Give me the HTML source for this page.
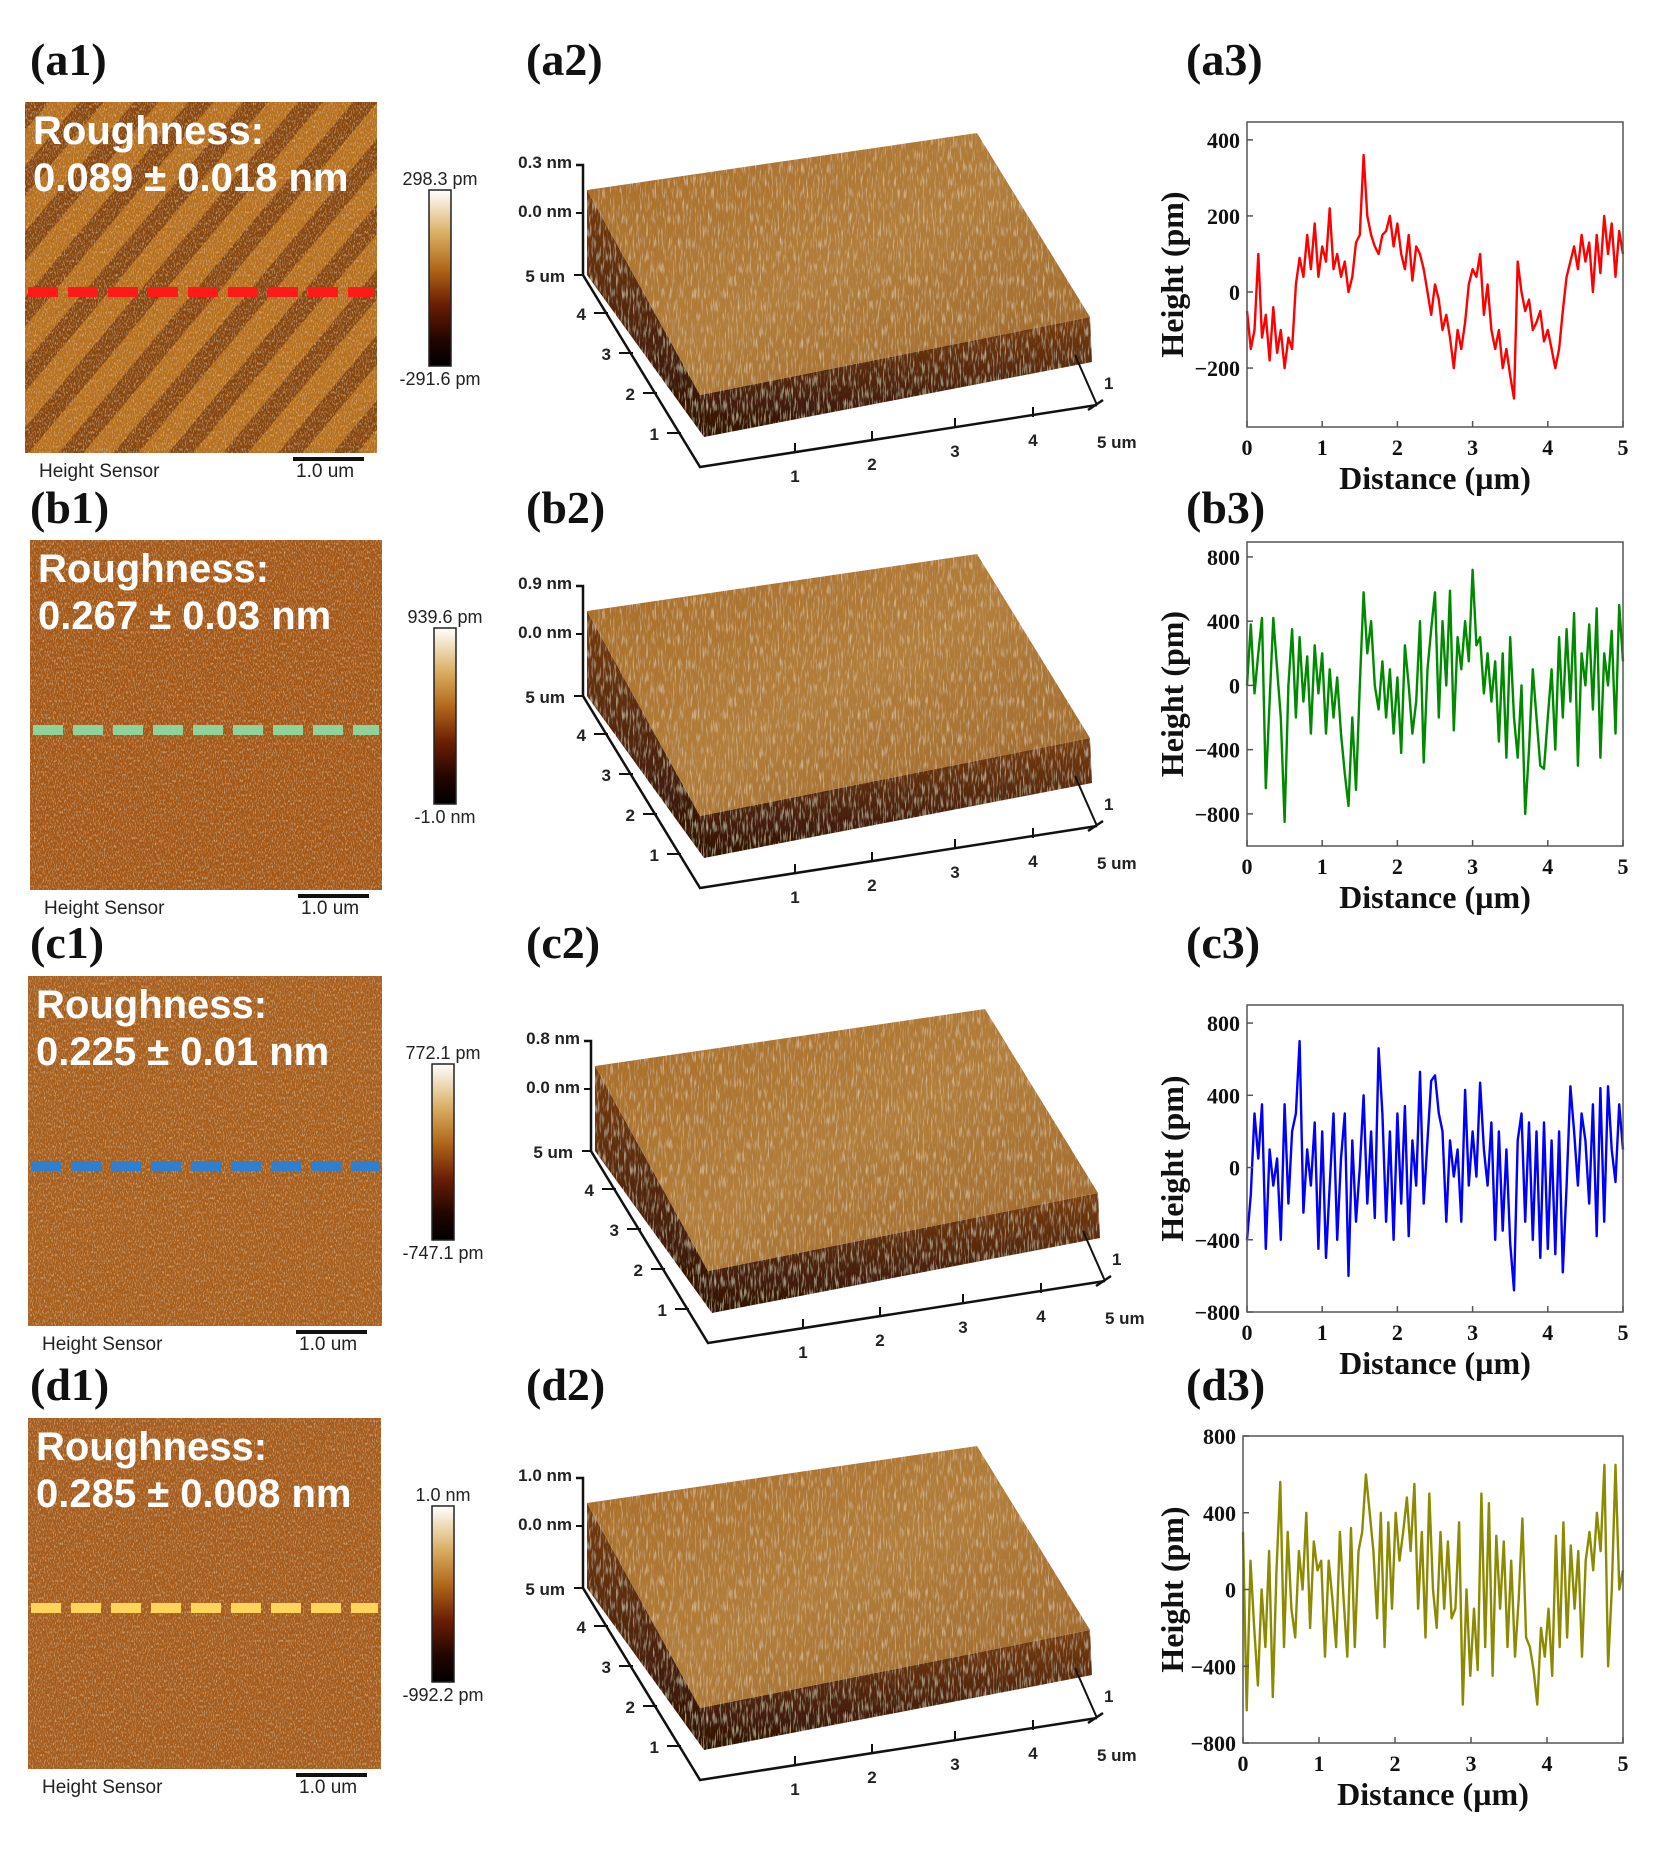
<!DOCTYPE html>
<html><head><meta charset="utf-8">
<style>
html,body{margin:0;padding:0;background:#fff;}
svg{display:block;}
.lbl{font-family:"Liberation Serif",serif;font-weight:bold;font-size:46px;fill:#111;}
.afm{font-family:"Liberation Sans",sans-serif;fill:#222;}
.tick{font-family:"Liberation Serif",serif;font-weight:bold;font-size:22px;fill:#111;}
.title{font-family:"Liberation Serif",serif;font-weight:bold;font-size:32px;fill:#111;}
</style></head>
<body>
<svg id="fig" width="1669" height="1855" viewBox="0 0 1669 1855" xmlns="http://www.w3.org/2000/svg">
<defs>
  <filter id="grain" x="0" y="0" width="100%" height="100%">
    <feTurbulence type="fractalNoise" baseFrequency="0.9 0.35" numOctaves="2" seed="3" result="n"/>
    <feColorMatrix in="n" type="matrix" values="0 0 0 0 0.95  0 0 0 0 0.75  0 0 0 0 0.4  0 0 0 1.4 -0.72" result="c"/>
    <feComposite in="c" in2="SourceGraphic" operator="atop"/>
  </filter>
  <filter id="spiky" x="0" y="0" width="100%" height="100%">
    <feTurbulence type="fractalNoise" baseFrequency="0.6 0.08" numOctaves="2" seed="7" result="n"/>
    <feColorMatrix in="n" type="matrix" values="0 0 0 0 0.9  0 0 0 0 0.75  0 0 0 0 0.5  0 0 0 1.5 -0.78" result="c"/>
    <feComposite in="c" in2="SourceGraphic" operator="atop"/>
  </filter>
  <pattern id="stripes" patternUnits="userSpaceOnUse" width="42" height="42" patternTransform="rotate(-50)">
    <rect width="42" height="42" fill="#b7701f"/>
    <rect width="42" height="19" fill="#8a4710"/>
  </pattern>
  <linearGradient id="cbar" x1="0" y1="0" x2="0" y2="1">
    <stop offset="0" stop-color="#ffffff"/>
    <stop offset="0.25" stop-color="#d9ad62"/>
    <stop offset="0.45" stop-color="#b0661a"/>
    <stop offset="0.65" stop-color="#6a1e04"/>
    <stop offset="0.85" stop-color="#220500"/>
    <stop offset="1" stop-color="#000000"/>
  </linearGradient>
  <linearGradient id="topface" x1="0" y1="0" x2="1" y2="1">
    <stop offset="0" stop-color="#a86c26"/>
    <stop offset="0.5" stop-color="#b27e3c"/>
    <stop offset="1" stop-color="#9c662a"/>
  </linearGradient>
  <linearGradient id="sideface" x1="0" y1="0" x2="0" y2="1">
    <stop offset="0" stop-color="#7a3e10"/>
    <stop offset="1" stop-color="#2e1004"/>
  </linearGradient>
</defs>
</svg>
<script>
// ---- line profile data (pm), sampled evenly over 0..5 µm ----
const a3Heights = [-50,-150,-100,100,-120,-60,-180,-40,-160,-100,-200,-120,-150,20,90,40,150,60,180,40,120,80,220,60,100,40,80,0,40,130,150,360,200,150,120,100,150,160,200,120,180,100,60,150,30,120,100,60,0,-60,20,-20,-100,-60,-120,-200,-100,-150,-80,20,60,40,100,-60,20,-100,-150,-100,-200,-150,-220,-280,80,0,-50,-20,-100,-80,-50,-130,-100,-150,-200,-150,-50,40,80,120,60,150,80,130,0,150,50,200,100,180,40,160,100];
const b3Heights = [0,380,-50,200,420,-640,-100,420,100,-200,-850,0,350,-200,300,-100,180,-300,250,-50,200,-300,100,-200,50,-300,-550,-750,-200,-650,0,580,200,400,0,-150,150,-200,100,-300,50,-420,250,0,-300,-100,400,-480,100,350,580,-200,400,0,590,-280,300,100,400,150,720,250,300,-50,200,-100,150,-350,200,-450,300,-200,-450,0,-800,-400,100,-200,-500,-520,-200,100,-400,300,-200,350,-100,450,-500,200,0,380,-150,480,-450,200,0,340,-300,500,150];
const c3Heights = [-400,-150,300,50,350,-450,100,-100,50,-400,350,-200,200,300,700,-250,100,-100,250,-450,200,-500,-100,300,-400,50,300,-600,150,-300,0,400,-200,200,-280,660,300,-300,200,-400,300,-200,340,-380,150,-100,530,-200,150,480,510,300,200,-300,150,-50,100,-300,430,-100,200,-50,470,100,-100,250,-400,200,-350,100,-420,-680,150,300,-300,250,-400,200,-500,250,-450,150,-480,200,-580,-100,450,200,-100,300,150,-200,350,-380,440,-300,450,100,-80,350,100];
const d3Heights = [300,-630,150,-200,-500,0,-300,200,-560,100,560,-300,300,-100,-250,200,0,400,-200,250,100,150,-350,150,-50,-300,300,-50,-350,320,-300,200,300,600,400,200,-150,400,-300,350,-100,400,150,300,480,200,550,-100,300,-250,500,0,-200,300,-100,250,-150,-100,350,-600,0,-450,-100,-420,500,-300,450,-450,280,-100,250,-300,150,-350,-50,370,-250,-300,-420,-600,-200,-350,-100,-450,280,-300,350,-250,230,-100,200,-350,150,300,100,400,200,650,-400,0,650,0,100];
const a3YTicks = [400,200,0,-200];
const b3YTicks = [800,400,0,-400,-800];
const c3YTicks = [800,400,0,-400,-800];
const d3YTicks = [800,400,0,-400,-800];
const xTicks = [0,1,2,3,4,5];
const xMax = 5;

const NS='http://www.w3.org/2000/svg';
const svg=document.getElementById('fig');
function mk(tag,attrs,parent){const e=document.createElementNS(NS,tag);for(const k in attrs)e.setAttribute(k,attrs[k]);(parent||svg).appendChild(e);return e;}
function txt(s,attrs,parent){const e=mk('text',attrs,parent);e.textContent=s;return e;}

// ---- panel labels ----
const rowLabelY=[75,523,958,1400];
const rowNames=['a','b','c','d'];
const colX=[30,526,1186];
rowNames.forEach((r,ri)=>{
  [1,2,3].forEach((c,ci)=>{
    const t=txt('('+r+c+')',{x:colX[ci],y:rowLabelY[ri],class:'lbl'});
    
    
  });
});

// ---- 2D AFM images ----
const leftPanels=[
 {r:'a',x:25,y:102,w:352,h:351,rough:'0.089 ± 0.018 nm',top:'298.3 pm',bot:'-291.6 pm',dash:'#ff1a1a',stripes:true,base:'#a85e1a'},
 {r:'b',x:30,y:540,w:352,h:350,rough:'0.267 ± 0.03 nm',top:'939.6 pm',bot:'-1.0 nm',dash:'#8fd39a',stripes:false,base:'#a55818'},
 {r:'c',x:28,y:976,w:354,h:350,rough:'0.225 ± 0.01 nm',top:'772.1 pm',bot:'-747.1 pm',dash:'#2f7fd0',stripes:false,base:'#a85e1c'},
 {r:'d',x:28,y:1418,w:353,h:351,rough:'0.285 ± 0.008 nm',top:'1.0 nm',bot:'-992.2 pm',dash:'#ffd45a',stripes:false,base:'#a65c1a'}
];
leftPanels.forEach(p=>{
  const g=mk('g',{});
  
  
  const img=mk('rect',{x:p.x,y:p.y,width:p.w,height:p.h,fill:p.stripes?'url(#stripes)':p.base,filter:'url(#grain)'},g);
  
  
  const t1=txt('Roughness:',{x:p.x+8,y:p.y+42,class:'afm','font-size':'40','font-weight':'bold',style:'fill:#fff'},g);
  
  
  const t2=txt(p.rough,{x:p.x+8,y:p.y+89,class:'afm','font-size':'40','font-weight':'bold',style:'fill:#fff'},g);
  
  
  const dl=mk('line',{x1:p.x+3,x2:p.x+p.w-3,y1:p.y+190,y2:p.y+190,stroke:p.dash,'stroke-width':10,'stroke-dasharray':'30 10'},g);
  
  
  const hs=txt('Height Sensor',{x:p.x+14,y:p.y+p.h+24,class:'afm','font-size':'19'},g);
  
  
  const sb=mk('rect',{x:p.x+268,y:p.y+p.h+4,width:71,height:4,fill:'#111'},g);
  
  
  const sl=txt('1.0 um',{x:p.x+271,y:p.y+p.h+24,class:'afm','font-size':'19'},g);
  
  
  const cb=mk('rect',{x:p.x+404,y:p.y+88,width:22,height:176,fill:'url(#cbar)',stroke:'#222','stroke-width':1.5},g);
  
  
  const ct=txt(p.top,{x:p.x+415,y:p.y+83,class:'afm','font-size':'18','text-anchor':'middle'},g);
  
  
  const cbt=txt(p.bot,{x:p.x+415,y:p.y+283,class:'afm','font-size':'18','text-anchor':'middle'},g);
  
  
});

// ---- 3D surfaces ----
const surf=[
 {r:'a',dx:0,dy:0,z:'0.3 nm'},
 {r:'b',dx:0,dy:421,z:'0.9 nm'},
 {r:'c',dx:8,dy:876,z:'0.8 nm'},
 {r:'d',dx:0,dy:1313,z:'1.0 nm'}
];
surf.forEach(s=>{
  const g=mk('g',{transform:'translate('+s.dx+','+s.dy+')'});
  
  
  const left=mk('polygon',{points:'587,190 700,395 704,437 587,275',fill:'url(#sideface)',filter:'url(#spiky)'},g);
  
  
  const front=mk('polygon',{points:'700,395 1090,317 1092,362 704,437',fill:'url(#sideface)',filter:'url(#spiky)'},g);
  
  
  const top=mk('polygon',{points:'587,190 977,133 1090,317 700,395',fill:'url(#topface)',filter:'url(#spiky)'},g);
  
  
  const ax=mk('polyline',{points:'576,165 583,165 583,275 700,467 1097,405',fill:'none',stroke:'#111','stroke-width':2.5},g);
  
  
  mk('line',{x1:576,x2:583,y1:213,y2:213,stroke:'#111','stroke-width':2},g);
  mk('line',{x1:574,x2:583,y1:275,y2:275,stroke:'#111','stroke-width':2},g);
  const zl=txt(s.z,{x:572,y:168,class:'afm','font-size':'17','font-weight':'bold','text-anchor':'end'},g);
  
  
  txt('0.0 nm',{x:572,y:217,class:'afm','font-size':'17','font-weight':'bold','text-anchor':'end'},g);
  txt('5 um',{x:565,y:282,class:'afm','font-size':'17','font-weight':'bold','text-anchor':'end'},g);
  [[4,608,313],[3,633,353],[2,657,393],[1,681,433]].forEach(t=>{
    mk('line',{x1:t[1]-14,x2:t[1],y1:t[2],y2:t[2],stroke:'#111','stroke-width':2},g);
    txt(String(t[0]),{x:t[1]-22,y:t[2]+7,class:'afm','font-size':'17','font-weight':'bold','text-anchor':'end'},g);
  });
  [[1,795,453],[2,872,441],[3,955,428],[4,1033,417]].forEach(t=>{
    mk('line',{x1:t[1],x2:t[1],y1:t[2],y2:t[2]-10,stroke:'#111','stroke-width':2},g);
    txt(String(t[0]),{x:t[1],y:t[2]+29,class:'afm','font-size':'17','font-weight':'bold','text-anchor':'middle'},g);
  });
  txt('5 um',{x:1097,y:448,class:'afm','font-size':'17','font-weight':'bold'},g);
  mk('line',{x1:1088,x2:1103,y1:410,y2:400,stroke:'#111','stroke-width':2.5},g);
  mk('line',{x1:1075,x2:1097,y1:355,y2:405,stroke:'#111','stroke-width':2},g);
  txt('1',{x:1104,y:389,class:'afm','font-size':'17','font-weight':'bold'},g);
});

// ---- line profile plots ----
const plots=[
 {id:'a3',data:a3Heights,ticks:a3YTicks,color:'#ff0000',L:1247,R:1623,T:122,B:427,ymin:-355,ymax:447},
 {id:'b3',data:b3Heights,ticks:b3YTicks,color:'#008a00',L:1247,R:1623,T:542,B:846,ymin:-1000,ymax:893},
 {id:'c3',data:c3Heights,ticks:c3YTicks,color:'#0000ff',L:1247,R:1623,T:1005,B:1312,ymin:-800,ymax:900},
 {id:'d3',data:d3Heights,ticks:d3YTicks,color:'#8c8a00',L:1243,R:1623,T:1436,B:1743,ymin:-800,ymax:800}
];
plots.forEach(p=>{
  const g=mk('g',{});
  
  
  const xs=v=>p.L+(v/xMax)*(p.R-p.L);
  const ys=v=>p.B-(v-p.ymin)/(p.ymax-p.ymin)*(p.B-p.T);
  const n=p.data.length;
  const pts=p.data.map((v,i)=>xs(i*xMax/(n-1)).toFixed(1)+','+ys(v).toFixed(1)).join(' ');
  const line=mk('polyline',{points:pts,fill:'none',stroke:p.color,'stroke-width':2.4,'stroke-linejoin':'round'},g);
  
  
  const box=mk('rect',{x:p.L,y:p.T,width:p.R-p.L,height:p.B-p.T,fill:'none',stroke:'#555','stroke-width':1.5},g);
  
  
  p.ticks.forEach(t=>{
    const y=ys(t);
    mk('line',{x1:p.L,x2:p.L+6,y1:y,y2:y,stroke:'#555','stroke-width':1.5},g);
    const lb=txt(t<0?'\u2212'+Math.abs(t):String(t),{x:p.L-7,y:y+8,class:'tick','text-anchor':'end'},g);
    
    
  });
  xTicks.forEach(t=>{
    const x=xs(t);
    mk('line',{x1:x,x2:x,y1:p.B,y2:p.B-6,stroke:'#555','stroke-width':1.5},g);
    const lb=txt(String(t),{x:x,y:p.B+28,class:'tick','text-anchor':'middle'},g);
    
    
  });
  const xt=txt('Distance (\u00b5m)',{x:(p.L+p.R)/2,y:p.B+62,class:'title','text-anchor':'middle'},g);
  
  
  const cy=(p.T+p.B)/2;
  const yt=txt('Height (pm)',{x:1183,y:cy,class:'title','text-anchor':'middle',transform:'rotate(-90 1183 '+cy+')'},g);
  
  
});
</script>
</body></html>
